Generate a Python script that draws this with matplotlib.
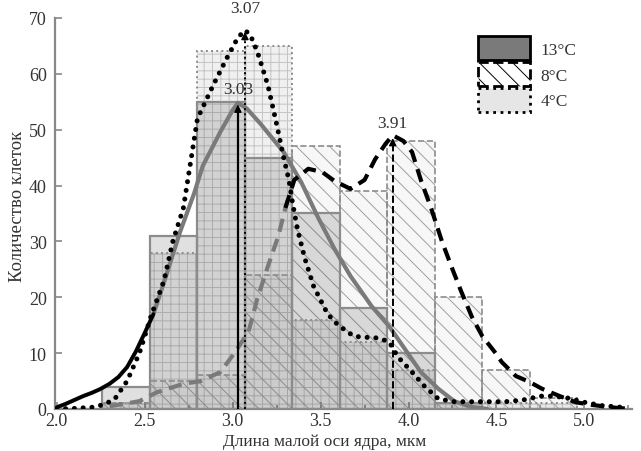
import numpy as np
import matplotlib
matplotlib.use("Agg")
from matplotlib import pyplot as plt
from matplotlib.patches import Patch

plt.rcParams['font.family'] = ['Liberation Serif', 'DejaVu Serif']
plt.rcParams['hatch.linewidth'] = 0.7

# histogram bins (left edges, мкм) and counts per temperature
bin_left = [2.26, 2.53, 2.80, 3.07, 3.34, 3.61, 3.88, 4.15, 4.42, 4.69]
bin_width = 0.27
counts_13 = [4, 31, 55, 45, 35, 18, 10, 1, 0, 0]
counts_8 = [1, 5, 6, 24, 47, 39, 48, 20, 7, 2]
counts_4 = [1, 28, 64, 65, 16, 12, 7, 1, 1, 1]

# smoothed distributions
sol_x = [2.00, 2.05, 2.10, 2.15, 2.20, 2.25, 2.30, 2.35, 2.40, 2.45, 2.50, 2.55,
         2.61, 2.70, 2.78, 2.83, 2.93, 3.00, 3.03, 3.08, 3.16, 3.23, 3.29, 3.39, 3.49,
         3.58, 3.67, 3.79, 3.89, 3.98, 4.07, 4.17, 4.26, 4.35, 4.45]
sol_y = [0.3, 0.9, 1.6, 2.3, 2.9, 3.6, 4.5, 5.7, 7.5, 10.3, 13.6, 17.0,
         22.7, 31.6, 38.5, 43.5, 49.6, 53.5, 54.8, 53.8, 51.0, 48.3, 46.0, 40.6, 34.0,
         28.6, 23.8, 18.4, 14.8, 10.7, 6.6, 3.6, 1.4, 0.4, 0.0]

dash_x = [2.30, 2.40, 2.47, 2.57, 2.65, 2.72, 2.82, 2.93, 3.01, 3.09, 3.14, 3.20, 3.26,
          3.30, 3.35, 3.43, 3.51, 3.58, 3.67, 3.75, 3.81, 3.87, 3.91, 3.97, 4.02, 4.07,
          4.13, 4.19, 4.25, 4.30, 4.36, 4.42, 4.49, 4.53, 4.61, 4.69, 4.76, 4.86, 4.95,
          5.05, 5.15, 5.26]
dash_y = [0.5, 1.0, 1.4, 3.0, 3.8, 4.5, 5.0, 6.6, 10.0, 13.8, 19.7, 25.5, 31.0,
          36.0, 41.0, 43.0, 42.4, 40.8, 39.4, 41.0, 44.7, 47.5, 49.0, 48.0, 46.0, 41.0,
          35.8, 30.0, 25.0, 21.0, 16.5, 13.0, 10.2, 8.4, 5.9, 4.8, 3.6, 2.3, 1.2,
          0.7, 0.3, 0.0]

dot_x = [2.00, 2.10, 2.20, 2.27, 2.33, 2.40, 2.47, 2.54, 2.61, 2.66, 2.72, 2.76, 2.80,
         2.89, 2.97, 3.03, 3.07, 3.10, 3.14, 3.20, 3.25, 3.29, 3.32, 3.34, 3.37, 3.41,
         3.46, 3.54, 3.60, 3.69, 3.77, 3.83, 3.89, 3.94, 4.02, 4.09, 4.17, 4.26, 4.40,
         4.55, 4.65, 4.75, 4.82, 4.90, 5.00, 5.10, 5.25]
dot_y = [0.0, 0.1, 0.3, 0.8, 1.8, 5.0, 10.0, 17.0, 23.0, 30.0, 36.0, 44.0, 52.0,
         58.0, 63.0, 66.5, 67.8, 67.0, 64.0, 58.0, 51.0, 45.0, 41.0, 37.0, 32.0, 27.0,
         22.0, 17.0, 15.0, 13.0, 12.8, 12.7, 12.0, 9.3, 6.6, 4.1, 1.8, 1.3, 1.3,
         1.3, 1.6, 2.3, 2.3, 2.0, 1.2, 0.6, 0.2]

# modes: position, height, line style, label height
modes = [(3.03, 55, '-', 55.9), (3.07, 68, ':', 70.3), (3.91, 49, '--', 49.8)]

fig = plt.figure(figsize=(6.41, 4.52), dpi=100)
ax = fig.add_axes([0.0858, 0.093, 0.9, 0.865])

lefts = np.array(bin_left)
# 4°C: light grid bars
ax.bar(lefts, counts_4, width=bin_width, align='edge', facecolor=(0, 0, 0, 0.06),
       edgecolor='#c4c4c4', hatch='++', linewidth=0, zorder=1)
# 8°C: diagonal hatch
ax.bar(lefts, counts_8, width=bin_width, align='edge', facecolor=(0, 0, 0, 0.03),
       edgecolor='#a0a0a0', hatch='\\\\', linewidth=0, zorder=2)
# 13°C: gray fill
ax.bar(lefts, counts_13, width=bin_width, align='edge', facecolor=(0, 0, 0, 0.12),
       edgecolor='#8c8c8c', linewidth=1.6, zorder=3)
# outlines
ax.bar(lefts, counts_4, width=bin_width, align='edge', fill=False,
       edgecolor='#8c8c8c', linestyle=':', linewidth=1.4, zorder=4)
ax.bar(lefts, counts_8, width=bin_width, align='edge', fill=False,
       edgecolor='#8c8c8c', linestyle='--', linewidth=1.2, zorder=4)

sol_x = np.array(sol_x); sol_y = np.array(sol_y)
dash_x = np.array(dash_x); dash_y = np.array(dash_y)

ax.plot(sol_x, sol_y, color='#7a7a7a', lw=3, zorder=5, solid_capstyle='round')
m = sol_x <= 2.55
ax.plot(sol_x[m], sol_y[m], color='k', lw=2.6, zorder=6, solid_capstyle='round')

m = dash_x <= 3.35
ax.plot(dash_x[m], dash_y[m], color='#7a7a7a', lw=3, ls=(0, (3.2, 1.8)), zorder=5)
m = dash_x >= 3.30
ax.plot(dash_x[m], dash_y[m], color='k', lw=3, ls=(0, (3.2, 1.8)), zorder=6)

ax.plot(dot_x, dot_y, color='k', lw=3.6, ls=(0, (0.01, 1.75)),
        dash_capstyle='round', zorder=6)

for x, h, ls, ty in modes:
    ax.plot([x, x], [0, h - 1.5], color='k', lw=1.6 if ls == '-' else 1.4, ls=ls, zorder=7)
    ax.annotate('', xy=(x, h), xytext=(x, h - 2.5),
                arrowprops=dict(arrowstyle='-|>', color='k', lw=1, mutation_scale=11),
                zorder=8)
    ax.text(x, ty, f'{x:.2f}', ha='center', va='bottom', fontsize=12.5, color='#333333',
            zorder=8, clip_on=False)

ax.set_xlim(1.99, 5.27)
ax.set_ylim(0, 70)
ax.set_xticks(np.arange(2.0, 5.01, 0.5))
ax.set_xticks(np.arange(2.25, 5.26, 0.5), minor=True)
ax.set_yticks(np.arange(0, 71, 10))
ax.set_xticklabels([f'{v:.1f}' for v in np.arange(2.0, 5.01, 0.5)])
ax.tick_params(axis='both', which='both', direction='in', colors='#888888',
               labelcolor='#333333', labelsize=13, width=1.2)
ax.tick_params(axis='both', which='major', length=5)
ax.tick_params(axis='x', which='minor', length=3)
ax.tick_params(axis='x', pad=2)
ax.tick_params(axis='y', pad=6)
for s in ['top', 'right']:
    ax.spines[s].set_visible(False)
for s in ['left', 'bottom']:
    ax.spines[s].set_color('#888888')
    ax.spines[s].set_linewidth(1.6)

ax.set_xlabel('Длина малой оси ядра, мкм', fontsize=12.5, color='#333333')
ax.set_ylabel('Количество клеток', fontsize=13.5, color='#333333')
ax.xaxis.set_label_coords(0.467, -0.062)
ax.yaxis.set_label_coords(-0.05, 0.52)

handles = [
    Patch(facecolor='#7a7a7a', edgecolor='k', linewidth=2),
    Patch(facecolor='white', edgecolor='k', hatch='\\\\', linestyle='--', linewidth=2),
    Patch(facecolor='#e6e6e6', edgecolor='k', linestyle=':', linewidth=2),
]
ax.legend(handles, ['13°C', '8°C', '4°C'], loc='upper left', bbox_to_anchor=(0.733, 0.953),
          frameon=False, borderpad=0, borderaxespad=0, handlelength=3.0, handleheight=1.75,
          labelspacing=0.1, handletextpad=0.6, fontsize=12.5, labelcolor='#333333')

fig.savefig('out.png', dpi=100)
